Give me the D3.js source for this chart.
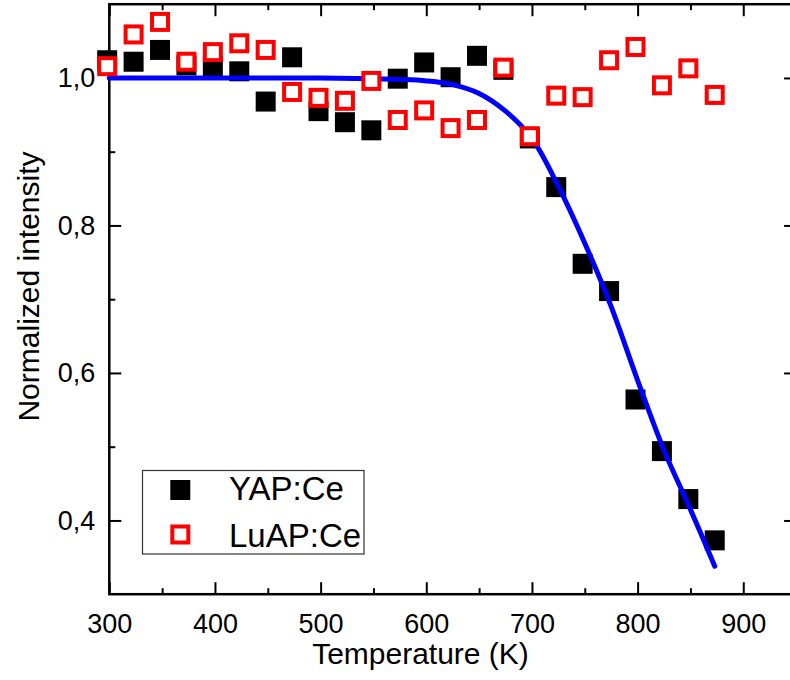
<!DOCTYPE html>
<html>
<head>
<meta charset="utf-8">
<script src="https://cdn.jsdelivr.net/npm/d3@7/dist/d3.min.js"></script>
<style>
  html, body { margin: 0; padding: 0; background: #fff; }
  svg { display: block; }
  text { font-family: "Liberation Sans", Arial, Helvetica, sans-serif; fill: #000; }
</style>
</head>
<body>
<svg id="chart" width="790" height="680"></svg>
<script>
// ---- data ----
const temperatures = [298, 323, 348, 373, 398, 423, 448, 473, 498, 523, 548, 573,
                      598, 623, 648, 673, 698, 723, 748, 773, 798, 823, 848, 873];
const yapValues = [1.024, 1.022, 1.038, 1.017, 1.016, 1.009, 0.968, 1.028, 0.955, 0.940, 0.929, 0.999,
                   1.021, 1.001, 1.030, 1.011, 0.918, 0.852, 0.748, 0.711, 0.564, 0.494, 0.429, 0.373];
const luapValues = [1.016, 1.059, 1.076, 1.022, 1.035, 1.047, 1.038, 0.981, 0.973, 0.969, 0.996, 0.943,
                    0.956, 0.932, 0.943, 1.014, 0.921, 0.976, 0.974, 1.024, 1.042, 0.990, 1.013, 0.977];
const fitTemperatures = [300, 400, 500, 550, 575, 600, 625, 650, 675, 700, 725, 750, 775, 800, 825, 850, 873];
const fitValues = [1.000, 1.000, 1.000, 0.999, 0.998, 0.996, 0.991, 0.979, 0.955, 0.918, 0.853, 0.776,
                   0.690, 0.590, 0.495, 0.415, 0.338];
const xMajorTicks = [300, 400, 500, 600, 700, 800, 900];
const xMinorTicks = [350, 450, 550, 650, 750, 850, 950];
const yMajorTicks = [0.4, 0.6, 0.8, 1.0];
const yMinorTicks = [0.5, 0.7, 0.9];
const seriesNames = ["YAP:Ce", "LuAP:Ce"];
const xTitle = "Temperature (K)";
const yTitle = "Normalized intensity";

// ---- layout ----
const L = 109.3, R = 796.1, T = 4.2, B = 594.2;
const svg = d3.select("#chart");
const x = d3.scaleLinear().domain([300, 950]).range([L, R]);
const y = d3.scaleLinear().domain([0.3, 1.1]).range([B, T]);
const fmt = d => d3.format(".1f")(d).replace(".", ",");
const tickFont = 27;

function styleAxis(g) {
  g.selectAll(".domain").remove();
  g.selectAll(".tick line").attr("stroke", "#000").attr("stroke-width", 2);
  g.selectAll("text").style("font-size", tickFont + "px").attr("fill", "#000");
}

// bottom axis
svg.append("g").attr("transform", `translate(0,${B})`)
  .call(d3.axisBottom(x).tickValues(xMajorTicks).tickSizeInner(-12).tickSizeOuter(0).tickPadding(19.5).tickFormat(d3.format("d")))
  .call(styleAxis);
svg.append("g").attr("transform", `translate(0,${B})`)
  .call(d3.axisBottom(x).tickValues(xMinorTicks).tickSizeInner(-6).tickSizeOuter(0).tickFormat(""))
  .call(styleAxis);
// top axis
svg.append("g").attr("transform", `translate(0,${T})`)
  .call(d3.axisTop(x).tickValues(xMajorTicks).tickSizeInner(-12).tickSizeOuter(0).tickFormat(""))
  .call(styleAxis);
svg.append("g").attr("transform", `translate(0,${T})`)
  .call(d3.axisTop(x).tickValues(xMinorTicks).tickSizeInner(-6).tickSizeOuter(0).tickFormat(""))
  .call(styleAxis);
// left axis
svg.append("g").attr("transform", `translate(${L},0)`)
  .call(d3.axisLeft(y).tickValues(yMajorTicks).tickSizeInner(-12).tickSizeOuter(0).tickPadding(14).tickFormat(fmt))
  .call(styleAxis);
svg.append("g").attr("transform", `translate(${L},0)`)
  .call(d3.axisLeft(y).tickValues(yMinorTicks).tickSizeInner(-6).tickSizeOuter(0).tickFormat(""))
  .call(styleAxis);
// right axis
svg.append("g").attr("transform", `translate(${R},0)`)
  .call(d3.axisRight(y).tickValues(yMajorTicks).tickSizeInner(-12).tickSizeOuter(0).tickFormat(""))
  .call(styleAxis);
svg.append("g").attr("transform", `translate(${R},0)`)
  .call(d3.axisRight(y).tickValues(yMinorTicks).tickSizeInner(-6).tickSizeOuter(0).tickFormat(""))
  .call(styleAxis);

// frame
svg.append("rect").attr("x", L).attr("y", T).attr("width", R - L).attr("height", B - T)
  .attr("fill", "none").attr("stroke", "#000").attr("stroke-width", 2.5);

// YAP:Ce filled black squares
const sq = 20;
svg.append("g").selectAll("rect").data(temperatures).join("rect")
  .attr("x", (d) => x(d) - sq / 2)
  .attr("y", (d, i) => y(yapValues[i]) - sq / 2)
  .attr("width", sq).attr("height", sq).attr("fill", "#000");

// fit line
const line = d3.line().x(d => x(d[0])).y(d => y(d[1])).curve(d3.curveCatmullRom.alpha(0.5));
svg.append("path").datum(fitTemperatures.map((t, i) => [t, fitValues[i]]))
  .attr("d", line).attr("fill", "none").attr("stroke", "#0000ff")
  .attr("stroke-width", 5).attr("stroke-linecap", "round");

// LuAP:Ce open red squares
const osq = 16;
svg.append("g").selectAll("rect").data(temperatures).join("rect")
  .attr("x", (d) => x(d) - osq / 2)
  .attr("y", (d, i) => y(luapValues[i]) - osq / 2)
  .attr("width", osq).attr("height", osq)
  .attr("fill", "#fff").attr("stroke", "#ff0000").attr("stroke-width", 4);

// axis titles
svg.append("text").attr("x", 420.5).attr("y", 663.5).attr("text-anchor", "middle")
  .style("font-size", "30px").text(xTitle);
svg.append("text").attr("transform", "translate(38.5,286.5) rotate(-90)").attr("text-anchor", "middle")
  .style("font-size", "30px").text(yTitle);

// legend
const lg = svg.append("g");
lg.append("rect").attr("x", 142.5).attr("y", 470.5).attr("width", 221.5).attr("height", 83.5)
  .attr("fill", "#fff").attr("stroke", "#333").attr("stroke-width", 1.2);
lg.append("rect").attr("x", 170.3).attr("y", 480).attr("width", 20).attr("height", 20).attr("fill", "#000");
lg.append("rect").attr("x", 172.3).attr("y", 526.5).attr("width", 16).attr("height", 16)
  .attr("fill", "#fff").attr("stroke", "#ff0000").attr("stroke-width", 4);
lg.append("text").attr("x", 229).attr("y", 500).style("font-size", "33px").text(seriesNames[0]);
lg.append("text").attr("x", 229).attr("y", 547.3).style("font-size", "33px").text(seriesNames[1]);
</script>
</body>
</html>
